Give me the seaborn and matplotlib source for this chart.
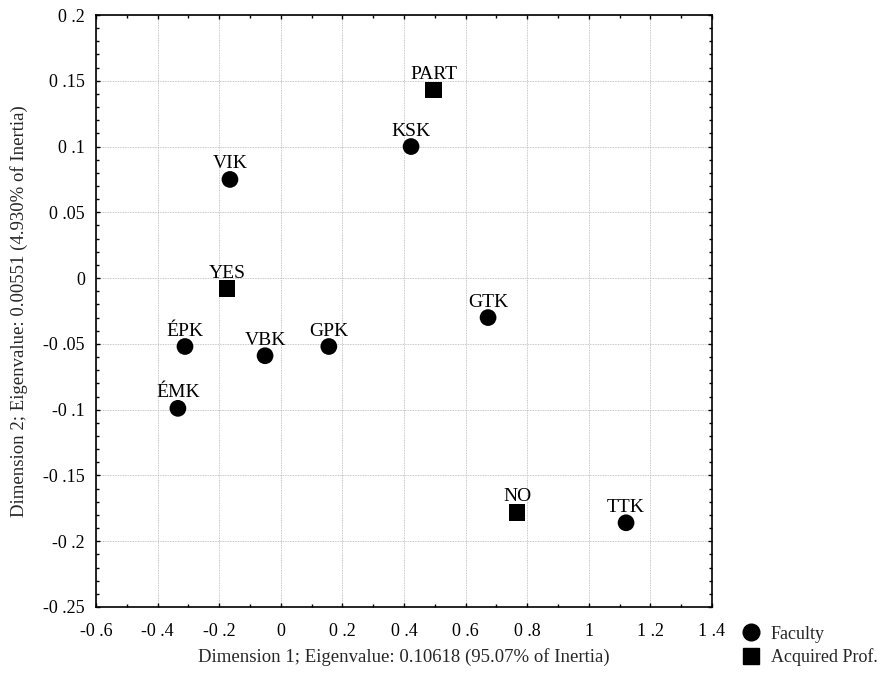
import numpy as np
import pandas as pd
import matplotlib
matplotlib.use("Agg")
import matplotlib.pyplot as plt
from matplotlib.ticker import MultipleLocator, FuncFormatter
from matplotlib.lines import Line2D
import seaborn as sns

# coordinates
faculty_names = ["KSK", "VIK", "GTK", "ÉPK", "VBK", "GPK", "ÉMK", "TTK"]
faculty_x = [0.423, -0.165, 0.673, -0.311, -0.051, 0.156, -0.334, 1.121]
faculty_y = [0.100, 0.075, -0.030, -0.052, -0.059, -0.052, -0.099, -0.186]

prof_names = ["PART", "YES", "NO"]
prof_x = [0.497, -0.175, 0.767]
prof_y = [0.143, -0.008, -0.178]

x_label = "Dimension 1; Eigenvalue: 0.10618 (95.07% of Inertia)"
y_label = "Dimension 2; Eigenvalue: 0.00551 (4.930% of Inertia)"

df = pd.DataFrame({
    "x": faculty_x + prof_x,
    "y": faculty_y + prof_y,
    "name": faculty_names + prof_names,
    "group": ["Faculty"] * len(faculty_names) + ["Acquired Prof."] * len(prof_names),
})

sns.set_style("ticks")
plt.rcParams["font.family"] = ["Liberation Serif", "DejaVu Serif"]
plt.rcParams["font.size"] = 13

fig = plt.figure(figsize=(8.87, 6.76), dpi=100)
ax = fig.add_axes([0.1082, 0.1021, 0.8027 - 0.1082, 0.9778 - 0.1021])

sns.scatterplot(data=df, x="x", y="y", style="group",
                markers={"Faculty": "o", "Acquired Prof.": "s"},
                color="black", edgecolor="black", s=145, linewidth=0,
                legend=False, ax=ax, zorder=3)

for _, row in df.iterrows():
    ax.annotate(row["name"], (row["x"], row["y"]), xytext=(0, 5),
                textcoords="offset points", ha="center", va="bottom",
                fontsize=14, color="black", zorder=4)

ax.set_xlim(-0.6, 1.4)
ax.set_ylim(-0.25, 0.2)
ax.xaxis.set_major_locator(MultipleLocator(0.2))
ax.xaxis.set_minor_locator(MultipleLocator(0.1))
ax.yaxis.set_major_locator(MultipleLocator(0.05))
ax.yaxis.set_minor_locator(MultipleLocator(0.01))


def fmt(v, pos):
    v = round(v, 2)
    if abs(v) < 1e-9:
        return "0"
    s = ("%.2f" % v).rstrip("0").rstrip(".")
    return s.replace(".", " .")


ax.xaxis.set_major_formatter(FuncFormatter(fmt))
ax.yaxis.set_major_formatter(FuncFormatter(fmt))

ax.tick_params(which="both", direction="in", top=True, right=True,
               labelsize=13, colors="black")
ax.tick_params(which="major", length=3, width=1)
ax.tick_params(which="minor", length=2.5, width=1)
ax.tick_params(axis="x", which="major", pad=11.5)
ax.tick_params(axis="y", which="major", pad=8)
for sp in ax.spines.values():
    sp.set_linewidth(1.2)
    sp.set_color("black")

ax.grid(True, which="major", linestyle=(0, (1, 1)), color="#b5b5b5", linewidth=0.6)
ax.set_axisbelow(True)

ax.set_xlabel(x_label, fontsize=13.5, labelpad=6)
ax.set_ylabel(y_label, fontsize=13.5, labelpad=11)

handles = [
    Line2D([], [], marker="o", color="black", linestyle="", markersize=12),
    Line2D([], [], marker="s", color="black", linestyle="", markersize=11),
]
fig.legend(handles, ["Faculty", "Acquired Prof."], loc="upper left",
           bbox_to_anchor=(0.824, 0.088), frameon=False, fontsize=13,
           handletextpad=0.5, labelspacing=0.3, borderpad=0, handlelength=1.2)

fig.savefig("out.png", dpi=100, facecolor="white")
